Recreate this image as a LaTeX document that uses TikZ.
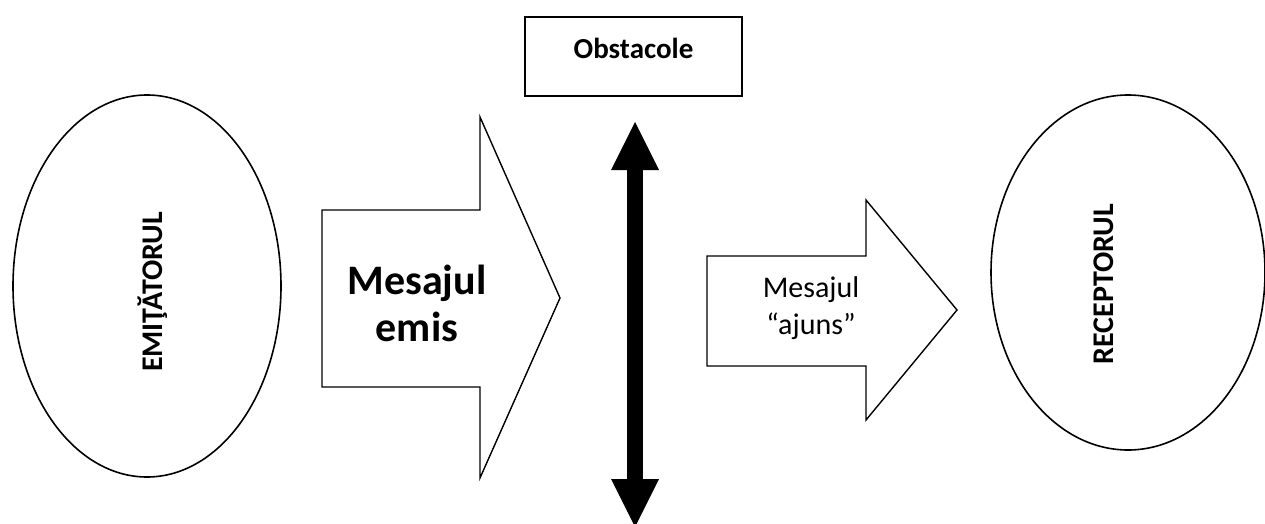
\documentclass[tikz,border=0pt]{standalone}
\usepackage{fontspec}
\setmainfont{Carlito}
\usetikzlibrary{arrows.meta,shapes.geometric}

\begin{document}
\begin{tikzpicture}[x=1pt,y=-1pt,line join=miter,
  oval/.style={ellipse,draw,line width=1.6pt,inner sep=0pt},
  sidetxt/.style={rotate=90,font=\fontsize{30}{34}\selectfont\bfseries},
  obstbox/.style={draw,line width=1.6pt,minimum width=217pt,minimum height=79pt,
                  text height=19pt,text depth=15pt,
                  font=\fontsize{29}{34}\selectfont\bfseries},
  blockarrow/.style={draw,line width=1.4pt,fill=white},
  bigtxt/.style={align=center,font=\fontsize{42}{47}\selectfont\bfseries},
  smalltxt/.style={align=center,font=\fontsize{30}{37}\selectfont},
  obstarrow/.style={{Triangle[length=48pt,width=48pt,line width=0pt]}-{Triangle[length=48pt,width=48pt,line width=0pt]},
                    line width=16pt}]
  \useasboundingbox (0,0) rectangle (1265,524);
  \node[oval,minimum width=268pt,minimum height=382pt] (emitator) at (147,286) {};
  \node[sidetxt] (emtxt) at (153,292) {EMIŢĂTORUL};
  \node[oval,minimum width=274pt,minimum height=355pt] (receptor) at (1128,272.5) {};
  \node[sidetxt] (rctxt) at (1104,284) {RECEPTORUL};
  \node[obstbox] (obst) at (633.5,56.5) {Obstacole};
  \draw[blockarrow] (322,210) -- (480,210) -- (480,117) -- (560,298) -- (480,478)
                    -- (480,387) -- (322,387) -- cycle;
  \node[bigtxt] (emis) at (417,303) {Mesajul\\emis};
  \draw[blockarrow] (707,256) -- (866,256) -- (866,200) -- (957,310) -- (866,420)
                    -- (866,366) -- (707,366) -- cycle;
  \node[smalltxt] (ajuns) at (811,308) {Mesajul\\“ajuns”};
  \coordinate (obsttop) at (635,122);
  \coordinate (obstbot) at (635,527);
  \draw[obstarrow] (obsttop) -- (obstbot);
\end{tikzpicture}
\end{document}
